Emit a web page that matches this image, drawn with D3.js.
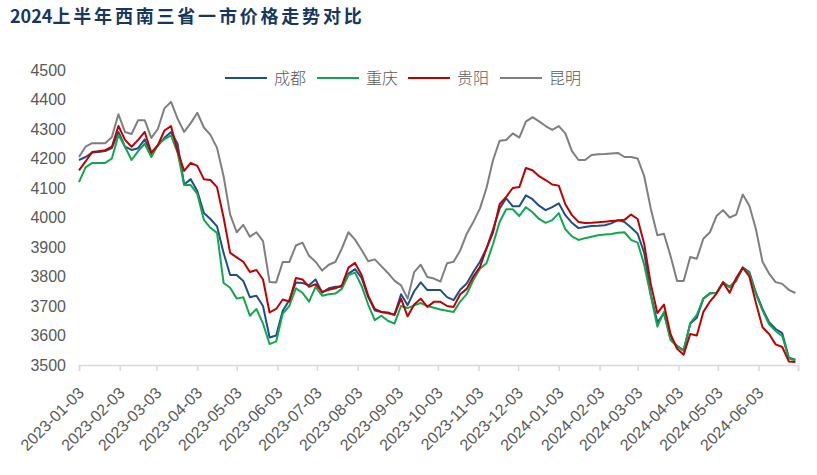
<!DOCTYPE html>
<html>
<head>
<meta charset="utf-8">
<script src="https://cdn.jsdelivr.net/npm/d3@7/dist/d3.min.js"></script>
<style>
  body { margin: 0; background: #fff; }
  svg { display: block; }
</style>
</head>
<body>
<div id="chart"></div>
<script>
// sample dates (every 5 days)
var dates = ["2023-01-03","2023-01-08","2023-01-13","2023-01-18","2023-01-23","2023-01-28","2023-02-02","2023-02-07","2023-02-12","2023-02-17",
  "2023-02-22","2023-02-27","2023-03-04","2023-03-09","2023-03-14","2023-03-19","2023-03-24","2023-03-29","2023-04-03","2023-04-08",
  "2023-04-13","2023-04-18","2023-04-23","2023-04-28","2023-05-03","2023-05-08","2023-05-13","2023-05-18","2023-05-23","2023-05-28",
  "2023-06-02","2023-06-07","2023-06-12","2023-06-17","2023-06-22","2023-06-27","2023-07-02","2023-07-07","2023-07-12","2023-07-17",
  "2023-07-22","2023-07-27","2023-08-01","2023-08-06","2023-08-11","2023-08-16","2023-08-21","2023-08-26","2023-08-31","2023-09-05",
  "2023-09-10","2023-09-15","2023-09-20","2023-09-25","2023-09-30","2023-10-05","2023-10-10","2023-10-15","2023-10-20","2023-10-25",
  "2023-10-30","2023-11-04","2023-11-09","2023-11-14","2023-11-19","2023-11-24","2023-11-29","2023-12-04","2023-12-09","2023-12-14",
  "2023-12-19","2023-12-24","2023-12-29","2024-01-03","2024-01-08","2024-01-13","2024-01-18","2024-01-23","2024-01-28","2024-02-02",
  "2024-02-07","2024-02-12","2024-02-17","2024-02-22","2024-02-27","2024-03-03","2024-03-08","2024-03-13","2024-03-18","2024-03-23",
  "2024-03-28","2024-04-02","2024-04-07","2024-04-12","2024-04-17","2024-04-22","2024-04-27","2024-05-02","2024-05-07","2024-05-12",
  "2024-05-17","2024-05-22","2024-05-27","2024-06-01","2024-06-06","2024-06-11","2024-06-16","2024-06-21","2024-06-26","2024-07-01"];

var chengdu = [4195,4205,4220,4222,4225,4235,4290,4240,4229,4235,
  4265,4215,4245,4270,4290,4250,4112,4130,4090,4015,
  3995,3970,3880,3805,3805,3785,3730,3735,3700,3593,
  3600,3684,3720,3780,3778,3770,3790,3745,3760,3765,
  3765,3810,3825,3795,3730,3685,3680,3675,3670,3740,
  3703,3750,3780,3754,3754,3754,3730,3720,3755,3776,
  3815,3850,3895,3960,4030,4065,4038,4038,4075,4062,
  4040,4025,4035,4048,4008,3982,3964,3968,3971,3972,
  3974,3980,3991,3985,3966,3945,3880,3740,3645,3675,
  3590,3565,3550,3640,3660,3725,3742,3745,3780,3765,
  3785,3830,3815,3745,3690,3645,3622,3608,3525,3518];

var chongqing = [4120,4170,4185,4185,4185,4200,4280,4240,4195,4225,
  4250,4205,4245,4266,4278,4220,4110,4110,4080,3992,
  3965,3948,3778,3762,3725,3730,3667,3690,3640,3571,
  3580,3674,3700,3760,3745,3715,3765,3735,3740,3742,
  3758,3805,3813,3768,3705,3652,3667,3650,3640,3700,
  3693,3702,3710,3700,3694,3688,3684,3680,3715,3740,
  3788,3826,3845,3910,3985,4028,4028,4005,4035,4018,
  3995,3982,3991,4015,3960,3936,3924,3930,3935,3940,
  3942,3944,3948,3950,3924,3915,3840,3735,3630,3680,
  3585,3563,3548,3642,3670,3725,3744,3744,3780,3763,
  3790,3830,3810,3740,3685,3638,3615,3598,3522,3516];

var guiyang = [4160,4190,4222,4225,4228,4240,4310,4263,4240,4263,
  4290,4220,4245,4295,4310,4225,4158,4185,4175,4130,
  4127,4103,4000,3880,3865,3850,3815,3822,3790,3678,
  3690,3722,3715,3795,3790,3765,3774,3748,3755,3760,
  3770,3830,3846,3805,3735,3690,3680,3678,3670,3725,
  3665,3705,3725,3697,3714,3714,3700,3697,3740,3758,
  3800,3832,3895,3950,4045,4070,4100,4103,4168,4160,
  4140,4127,4112,4108,4045,4008,3985,3981,3982,3984,
  3986,3988,3990,3992,4010,3995,3910,3775,3676,3705,
  3605,3555,3535,3605,3600,3680,3715,3742,3780,3745,
  3795,3830,3800,3710,3628,3605,3570,3561,3512,3510];

var kunming = [4205,4240,4252,4252,4252,4273,4350,4290,4283,4330,
  4330,4270,4300,4370,4392,4335,4290,4320,4355,4305,
  4280,4236,4140,4010,3950,3975,3935,3950,3920,3781,
  3780,3849,3849,3905,3915,3870,3850,3820,3840,3849,
  3895,3950,3925,3890,3852,3858,3835,3812,3786,3770,
  3725,3815,3840,3798,3793,3783,3845,3850,3888,3945,
  3985,4030,4100,4195,4260,4263,4285,4271,4325,4340,
  4326,4310,4297,4310,4285,4225,4195,4195,4212,4214,
  4215,4217,4219,4205,4205,4200,4140,4030,3940,3945,
  3870,3785,3785,3866,3860,3928,3950,4005,4025,4000,
  4010,4078,4040,3960,3850,3810,3781,3775,3755,3744];

var seriesNames = ["成都", "重庆", "贵阳", "昆明"];
var seriesColors = ["#1f4e8c", "#10a84f", "#c00000", "#7f7f7f"];
var tickLabels = ["2023-01-03","2023-02-03","2023-03-03","2023-04-03","2023-05-03","2023-06-03","2023-07-03","2023-08-03","2023-09-03",
  "2023-10-03","2023-11-03","2023-12-03","2024-01-03","2024-02-03","2024-03-03","2024-04-03","2024-05-03","2024-06-03"];
var yTicks = [3500,3600,3700,3800,3900,4000,4100,4200,4300,4400,4500];

var W = 817, H = 475;
var parse = d3.timeParse("%Y-%m-%d");

var svg = d3.select("#chart").append("svg")
    .attr("width", W)
    .attr("height", H);

// title
var title = svg.append("text")
    .attr("x", 10)
    .attr("y", 23)
    .attr("fill", "#17375e")
    .style("font-family", "'Noto Sans CJK SC', sans-serif")
    .style("font-weight", "bold")
    .style("font-size", "18px");
title.append("tspan").text("2024");
title.append("tspan").attr("letter-spacing", "2.8px").text("上半年西南三省一市价格走势对比");

var x = d3.scaleTime()
    .domain([parse("2023-01-03"), parse("2024-07-03")])
    .range([79, 798]);

var y = d3.scaleLinear()
    .domain([3500, 4500])
    .range([365, 70]);

// x axis
var xTickDates = tickLabels.map(parse).concat([parse("2024-07-03")]);
var xAxis = svg.append("g")
    .attr("transform", "translate(0,365)")
    .call(d3.axisBottom(x).tickValues(xTickDates).tickSize(6).tickFormat(""));
xAxis.select(".domain").attr("stroke", "#d9d9d9").attr("stroke-width", 1.5);
xAxis.selectAll(".tick line").attr("stroke", "#d9d9d9").attr("stroke-width", 1.5);

svg.append("g").selectAll("text")
    .data(tickLabels)
    .enter().append("text")
    .attr("transform", function(d) { return "translate(" + (x(parse(d)) + 6) + ",394) rotate(-45)"; })
    .attr("text-anchor", "end")
    .attr("fill", "#595959")
    .style("font-family", "'Liberation Sans', Arial, sans-serif")
    .style("font-size", "16px")
    .text(function(d) { return d; });

// y axis labels
var yAxis = svg.append("g")
    .attr("transform", "translate(66,0)")
    .call(d3.axisLeft(y).tickValues(yTicks).tickSize(0).tickPadding(0).tickFormat(d3.format("d")));
yAxis.select(".domain").remove();
yAxis.selectAll("text")
    .attr("fill", "#595959")
    .style("font-family", "'Liberation Sans', Arial, sans-serif")
    .style("font-size", "16px");

// lines
var allSeries = [chengdu, chongqing, guiyang, kunming];
var line = d3.line()
    .x(function(d, i) { return x(parse(dates[i])); })
    .y(function(d) { return y(d); });

svg.append("g").selectAll("path")
    .data(allSeries)
    .enter().append("path")
    .attr("fill", "none")
    .attr("stroke", function(d, i) { return seriesColors[i]; })
    .attr("stroke-width", 2)
    .attr("stroke-linejoin", "round")
    .attr("d", line);

// legend
var legendX = [225, 317, 408, 500];
var legend = svg.append("g").selectAll("g")
    .data(seriesNames)
    .enter().append("g")
    .attr("transform", function(d, i) { return "translate(" + legendX[i] + ",78)"; });

legend.append("line")
    .attr("x1", 0)
    .attr("x2", 42)
    .attr("stroke", function(d, i) { return seriesColors[i]; })
    .attr("stroke-width", 2);

legend.append("text")
    .attr("x", 49)
    .attr("dy", "0.36em")
    .attr("fill", "#595959")
    .style("font-family", "'Noto Sans CJK SC', sans-serif")
    .style("font-size", "16px")
    .style("font-weight", "300")
    .text(function(d) { return d; });
</script>
</body>
</html>
